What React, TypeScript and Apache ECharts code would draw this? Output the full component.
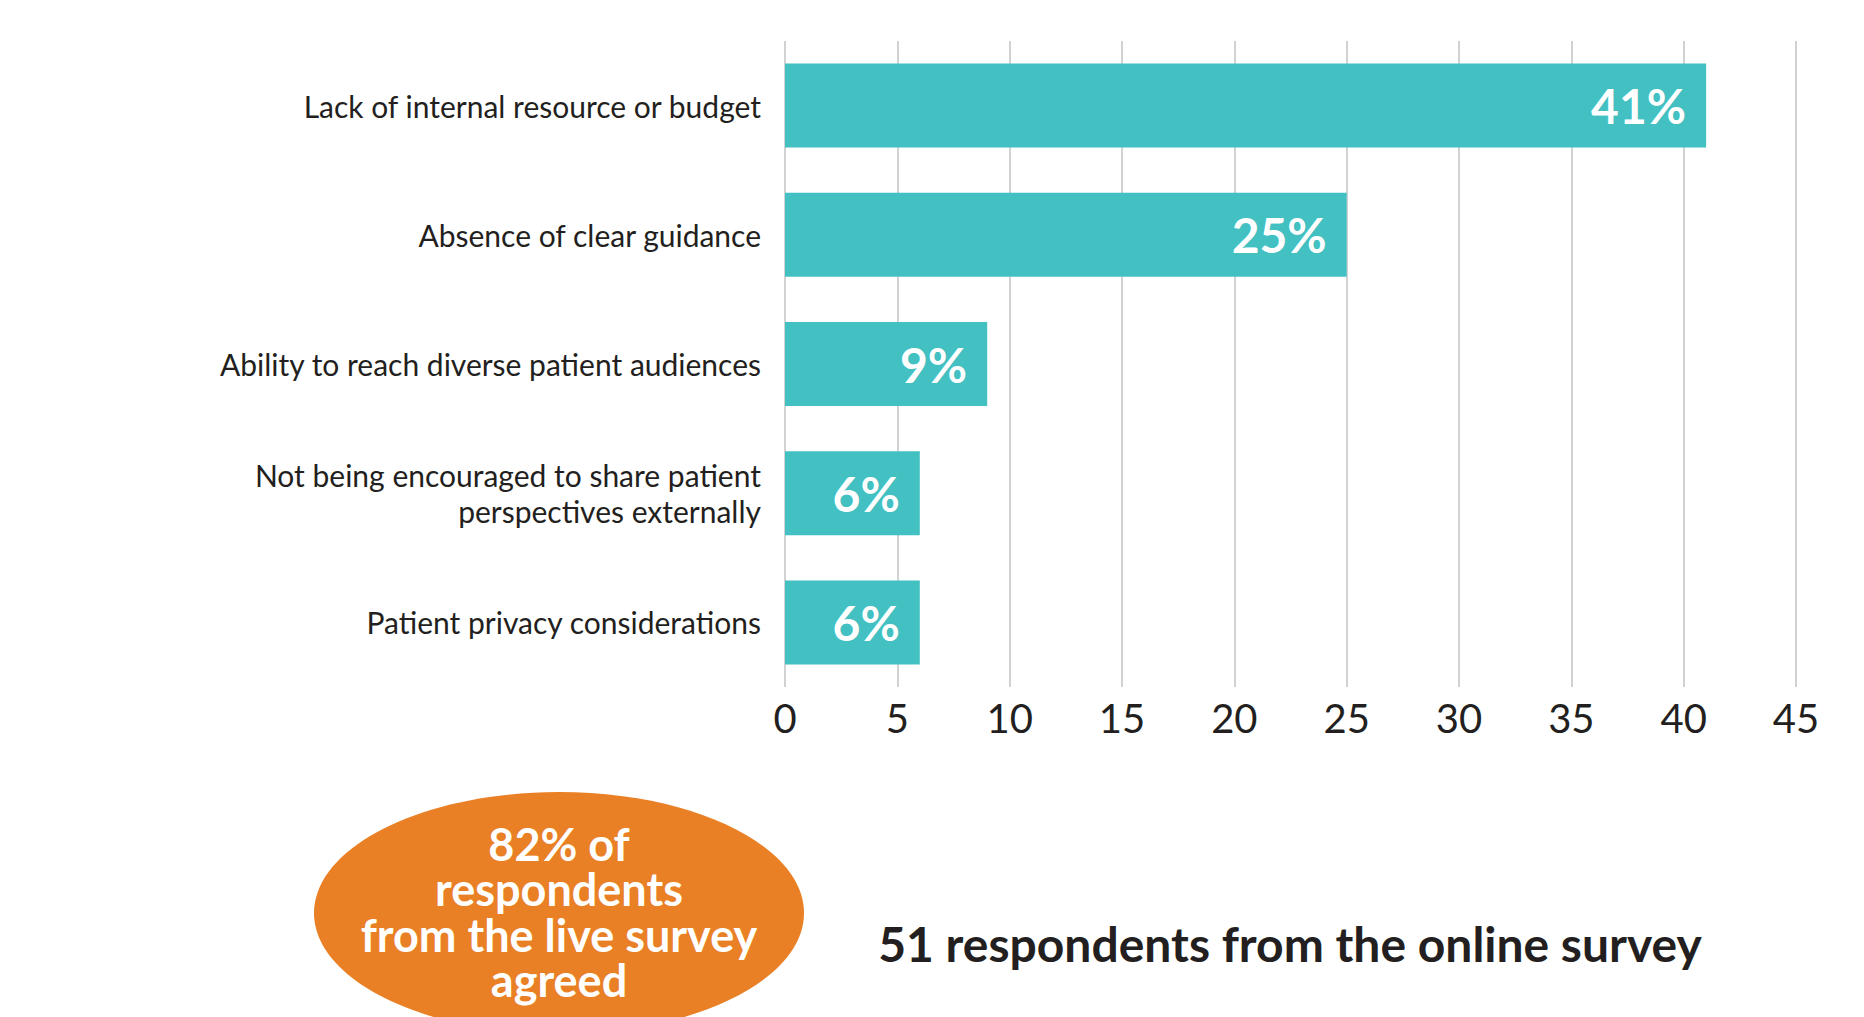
import React, { useEffect, useRef } from "react";
import * as echarts from "echarts";

const categories = [
  "Lack of internal resource or budget",
  "Absence of clear guidance",
  "Ability to reach diverse patient audiences",
  "Not being encouraged to share patient\nperspectives externally",
  "Patient privacy considerations",
];
const values = [41, 25, 9, 6, 6];
const xTicks = { min: 0, max: 45, interval: 5 };
const bubbleLines = ["82% of", "respondents", "from the live survey", "agreed"];
const footnote = "51 respondents from the online survey";

const FONT = "Lato, 'Noto Sans', sans-serif";

export default function App() {
  const ref = useRef<HTMLDivElement>(null);
  useEffect(() => {
    document.body.style.margin = "0";
    if (!ref.current) return;
    const chart = echarts.init(ref.current, null, { renderer: "svg" });
    chart.setOption({
      animation: false,
      backgroundColor: "#ffffff",
      grid: { left: 785, right: 68, top: 41, bottom: 330, containLabel: false },
      xAxis: {
        type: "value",
        min: xTicks.min,
        max: xTicks.max,
        interval: xTicks.interval,
        axisLine: { show: false },
        axisTick: { show: false },
        splitLine: { show: true, lineStyle: { color: "#d2d2d2", width: 2 } },
        axisLabel: {
          color: "#231f20",
          fontFamily: FONT,
          fontSize: 40,
          margin: 11,
        },
      },
      yAxis: {
        type: "category",
        data: categories,
        inverse: true,
        axisLine: { show: false },
        axisTick: { show: false },
        axisLabel: {
          color: "#231f20",
          fontFamily: FONT,
          fontSize: 30,
          lineHeight: 36,
          margin: 24,
          align: "right",
          padding: [0, 0, 11, 0],
        },
      },
      series: [
        {
          type: "bar",
          data: values,
          barWidth: 84,
          itemStyle: { color: "#42c0c2" },
          label: {
            show: true,
            position: "insideRight",
            distance: 20,
            formatter: "{c}%",
            color: "#ffffff",
            fontFamily: FONT,
            fontWeight: "bold",
            fontSize: 48,
            padding: [0, 0, 5, 0],
          },
        },
      ],
      graphic: [
        {
          type: "ellipse",
          shape: { cx: 559, cy: 913, rx: 245, ry: 121 },
          style: { fill: "#e98025" },
          silent: true,
        },
        {
          type: "text",
          x: 559,
          y: 912,
          style: {
            text: bubbleLines.join("\n"),
            fill: "#ffffff",
            font: `bold 45px ${FONT}`,
            lineHeight: 45.6,
            textAlign: "center",
            textVerticalAlign: "middle",
          },
        },
        {
          type: "text",
          x: 1290,
          y: 943,
          style: {
            text: footnote,
            fill: "#231f20",
            font: `bold 48px ${FONT}`,
            textAlign: "center",
            textVerticalAlign: "middle",
          },
        },
      ],
    });
    return () => chart.dispose();
  }, []);
  return <div ref={ref} style={{ width: 1864, height: 1017 }} />;
}
